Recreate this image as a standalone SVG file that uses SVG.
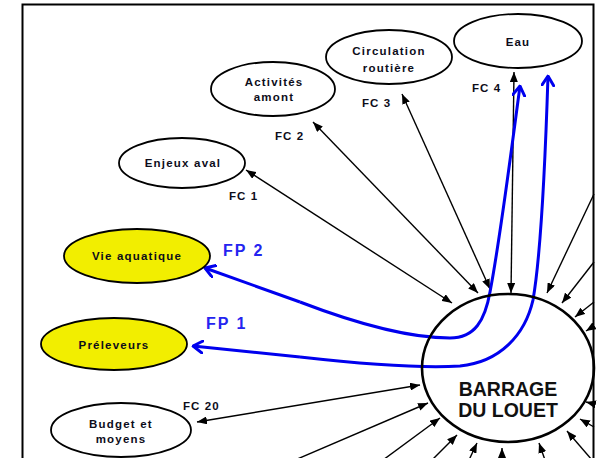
<svg xmlns="http://www.w3.org/2000/svg" width="600" height="458" viewBox="0 0 600 458">
<defs>
<style>
.node{fill:#fff;stroke:#000;stroke-width:1.8}
.fp{fill:#f2ee00;stroke:#000;stroke-width:1.8}
.lbl{font-family:"Liberation Sans",Arial,sans-serif;font-weight:bold;font-size:11.5px;letter-spacing:1.2px;fill:#0d0d1a;text-anchor:middle}
.fc{font-family:"Liberation Sans",Arial,sans-serif;font-weight:bold;font-size:11.5px;letter-spacing:1.1px;fill:#0d0d1a}
.fpl{font-family:"Liberation Sans",Arial,sans-serif;font-weight:bold;font-size:16px;letter-spacing:2px;fill:#2424f0}
.big{font-family:"Liberation Sans",Arial,sans-serif;font-weight:bold;font-size:19.5px;fill:#111;text-anchor:middle}
.c{fill:none;stroke:#000;stroke-width:1.4}
.b{fill:none;stroke:#0000ee;stroke-width:3}
</style>
<marker id="ah" viewBox="0 0 10 8" refX="10" refY="4" markerWidth="10" markerHeight="8" markerUnits="userSpaceOnUse" orient="auto-start-reverse">
<path d="M0,0 L10,4 L0,8 z" fill="#000"/>
</marker>
<marker id="bh" viewBox="0 0 12 14" refX="10.5" refY="7" markerWidth="12" markerHeight="14" markerUnits="userSpaceOnUse" orient="auto">
<path d="M1,1 L10.5,7 L1,13" fill="none" stroke="#0000ee" stroke-width="3" stroke-linecap="round" stroke-linejoin="round"/>
</marker>
</defs>
<rect x="0" y="0" width="600" height="458" fill="#fff"/>

<g id="connectors">
<line class="c" x1="246" y1="170" x2="452" y2="303" marker-start="url(#ah)" marker-end="url(#ah)"/>
<line class="c" x1="313" y1="122" x2="478" y2="293" marker-start="url(#ah)" marker-end="url(#ah)"/>
<line class="c" x1="402" y1="94" x2="490" y2="289" marker-start="url(#ah)" marker-end="url(#ah)"/>
<line class="c" x1="514" y1="72" x2="511" y2="293" marker-start="url(#ah)" marker-end="url(#ah)"/>
<line class="c" x1="197" y1="422" x2="420" y2="385" marker-start="url(#ah)" marker-end="url(#ah)"/>
<line class="c" x1="594" y1="194" x2="547" y2="293" marker-end="url(#ah)"/>
<line class="c" x1="594" y1="262" x2="562" y2="303" marker-end="url(#ah)"/>
<line class="c" x1="594" y1="302" x2="575" y2="317" marker-end="url(#ah)"/>
<line class="c" x1="594" y1="326" x2="586" y2="331" marker-end="url(#ah)"/>
<line class="c" x1="594" y1="404" x2="586" y2="402" marker-end="url(#ah)"/>
<line class="c" x1="594" y1="427" x2="580" y2="419" marker-end="url(#ah)"/>
<line class="c" x1="592" y1="460" x2="567" y2="431" marker-end="url(#ah)"/>
<line class="c" x1="545" y1="460" x2="539" y2="443" marker-end="url(#ah)"/>
<line class="c" x1="502" y1="460" x2="502" y2="448" marker-end="url(#ah)"/>
<line class="c" x1="469" y1="460" x2="477" y2="443" marker-end="url(#ah)"/>
<line class="c" x1="432" y1="460" x2="457" y2="435" marker-end="url(#ah)"/>
<line class="c" x1="383" y1="460" x2="440" y2="418" marker-end="url(#ah)"/>
<line class="c" x1="295" y1="460" x2="428" y2="403" marker-end="url(#ah)"/>
<path class="b" d="M300 302 C360 325,410 338,450 338 C475 338,485 320,490 292 C500 240,510 160,520 86" marker-end="url(#bh)"/>
<path class="b" d="M300 302 L205 268" marker-end="url(#bh)"/>
<path class="b" d="M300 357 C380 366,430 368,460 366 C500 362,525 335,533 300 C540 260,545 170,548 76" marker-end="url(#bh)"/>
<path class="b" d="M300 357 L193 346" marker-end="url(#bh)"/>
</g>

<rect x="22.5" y="4.5" width="571" height="470" fill="none" stroke="#000" stroke-width="2"/>

<g id="barrage">
<ellipse cx="508" cy="368" rx="86" ry="74" fill="none" stroke="#000" stroke-width="2.6"/>
<text class="big" x="508" y="396">BARRAGE</text>
<text class="big" x="508" y="417">DU LOUET</text>
</g>
<g id="eau">
<ellipse class="node" cx="518" cy="41" rx="64" ry="27"/>
<text class="lbl" x="518" y="46">Eau</text>
</g>
<g id="circulation">
<ellipse class="node" cx="389" cy="57" rx="63" ry="27"/>
<text class="lbl" x="389" y="55">Circulation</text>
<text class="lbl" x="389" y="72">routière</text>
</g>
<g id="activites">
<ellipse class="node" cx="273" cy="89" rx="62" ry="27"/>
<text class="lbl" x="274" y="86">Activités</text>
<text class="lbl" x="274" y="101">amont</text>
</g>
<g id="enjeux">
<ellipse class="node" cx="182" cy="163" rx="63" ry="25"/>
<text class="lbl" x="183" y="167">Enjeux aval</text>
</g>
<g id="vie">
<ellipse class="fp" cx="137" cy="256" rx="73" ry="27"/>
<text class="lbl" x="137" y="260">Vie aquatique</text>
</g>
<g id="preleveurs">
<ellipse class="fp" cx="114" cy="344" rx="73" ry="26"/>
<text class="lbl" x="114" y="349">Préleveurs</text>
</g>
<g id="budget">
<ellipse class="node" cx="121" cy="430" rx="70" ry="27"/>
<text class="lbl" x="121" y="428">Budget et</text>
<text class="lbl" x="121" y="443">moyens</text>
</g>

<g id="labels">
<text class="fc" x="229" y="200">FC 1</text>
<text class="fc" x="275" y="140">FC 2</text>
<text class="fc" x="362" y="107">FC 3</text>
<text class="fc" x="472" y="92">FC 4</text>
<text class="fc" x="183" y="410">FC 20</text>
<text class="fpl" x="223" y="256">FP 2</text>
<text class="fpl" x="206" y="329">FP 1</text>
</g>
</svg>
